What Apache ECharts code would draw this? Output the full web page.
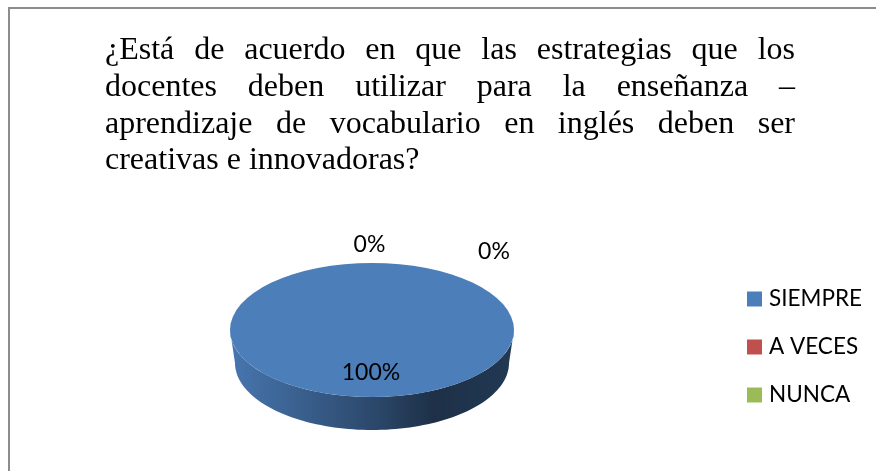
<!DOCTYPE html>
<html>
<head>
<meta charset="utf-8">
<style>
html, body { margin: 0; padding: 0; background: #fff; }
#chart { width: 876px; height: 471px; }
</style>
<script src="https://cdn.jsdelivr.net/npm/echarts@6/dist/echarts.min.js"></script>
</head>
<body>
<div id="chart"></div>
<script>
// datos
var categories = ['SIEMPRE', 'A VECES', 'NUNCA'];
var values = [100, 0, 0];
var colors = ['#4C7EBA', '#C0504D', '#9BBB59'];
var titleLines = [
    '¿Está de acuerdo en que las estrategias que los',
    'docentes deben utilizar para la enseñanza –',
    'aprendizaje de vocabulario en inglés deben ser',
    'creativas e innovadoras?'
];

// geometria del pastel
var pie = { cx: 372, cy: 330, rx: 142, ry: 67, bottomCy: 363, bottomRx: 137 };
var labelAt = [[371, 372.5], [369.5, 245], [494, 252]];
var total = values.reduce(function(a, b) { return a + b; }, 0);
var titleFont = '32px "Liberation Serif"';

function startAngle(index) {
    var sum = 0;
    for (var i = 0; i < index; i++) sum += values[i];
    return -Math.PI / 2 + sum / total * Math.PI * 2;
}

function sidePoints(a0, a1) {
    // solo la parte delantera del lateral se ve
    var from = Math.max(a0, 0), to = Math.min(a1, Math.PI);
    if (to <= from) return null;
    var top = [], bottom = [];
    for (var i = 0; i <= 90; i++) {
        var a = from + (to - from) * i / 90;
        top.push([pie.cx + pie.rx * Math.cos(a), pie.cy + pie.ry * Math.sin(a)]);
        bottom.unshift([pie.cx + pie.bottomRx * Math.cos(a), pie.bottomCy + pie.ry * Math.sin(a)]);
    }
    return top.concat(bottom);
}

// oscurece un color (factor 1 = igual)
function shade(color, factor) {
    var c = echarts.color.parse(color);
    return 'rgb(' + Math.round(c[0] * factor) + ',' + Math.round(c[1] * factor) + ',' + Math.round(c[2] * factor) + ')';
}

function makeRenderItem(index) {
    return function(params, api) {
        var value = api.value(0);
        var a0 = startAngle(index);
        var a1 = a0 + value / total * Math.PI * 2;
        var children = [];
        var side = sidePoints(a0, a1);
        if (side) {
            children.push({
                type: 'polygon',
                shape: { points: side },
                style: {
                    fill: new echarts.graphic.LinearGradient(0, 0, 1, 0, [
                        { offset: 0, color: shade(colors[index], 0.94) },
                        { offset: 0.5, color: shade(colors[index], 0.58) },
                        { offset: 0.72, color: shade(colors[index], 0.38) },
                        { offset: 1, color: shade(colors[index], 0.45) }
                    ])
                }
            });
        }
        if (value > 0) {
            children.push({
                type: 'sector',
                x: pie.cx,
                y: pie.cy,
                scaleY: pie.ry / pie.rx,
                shape: { cx: 0, cy: 0, r: pie.rx, r0: 0, startAngle: a0, endAngle: a1 },
                style: { fill: colors[index] }
            });
        }
        children.push({
            type: 'text',
            z2: 10,
            style: {
                text: Math.round(value / total * 100) + '%',
                x: labelAt[index][0],
                y: labelAt[index][1],
                align: 'center',
                verticalAlign: 'middle',
                fill: '#000',
                font: '23px Lato'
            }
        });
        return { type: 'group', children: children };
    };
}

// titulo justificado, palabra por palabra
function titleElements() {
    var left = 105, right = 795, elements = [];
    var ctx = document.createElement('canvas').getContext('2d');
    ctx.font = titleFont;
    titleLines.forEach(function(line, l) {
        var words = line.split(' ');
        var used = words.reduce(function(s, w) { return s + ctx.measureText(w).width; }, 0);
        var space = ctx.measureText(' ').width;
        if (l < titleLines.length - 1) space = (right - left - used) / (words.length - 1);
        var x = left;
        words.forEach(function(w) {
            elements.push({
                type: 'text',
                x: x,
                y: 51 + l * 36.6,
                style: { text: w, font: titleFont, fill: '#000', verticalAlign: 'middle' },
                silent: true
            });
            x += ctx.measureText(w).width + space;
        });
    });
    return elements;
}

var myChart = echarts.init(document.getElementById('chart'));

var option = {
    animation: false,
    backgroundColor: '#fff',
    color: colors,
    legend: {
        orient: 'vertical',
        left: 742,
        top: 280,
        icon: 'rect',
        itemWidth: 15,
        itemHeight: 15,
        itemGap: 20,
        data: categories,
        selectedMode: false,
        textStyle: { fontFamily: 'Lato', fontSize: 22.5, color: '#000', lineHeight: 28, padding: [0, 0, 0, 2] }
    },
    graphic: [
        {
            type: 'polyline',
            shape: { points: [[9, 471], [9, 8], [876, 8]] },
            style: { stroke: '#8c8c8c', lineWidth: 2, fill: 'none' },
            silent: true
        }
    ].concat(titleElements()),
    series: categories.map(function(name, i) {
        return {
            name: name,
            type: 'custom',
            coordinateSystem: 'none',
            renderItem: makeRenderItem(i),
            data: [[values[i]]],
            silent: true
        };
    })
};

myChart.setOption(option);
</script>
</body>
</html>
